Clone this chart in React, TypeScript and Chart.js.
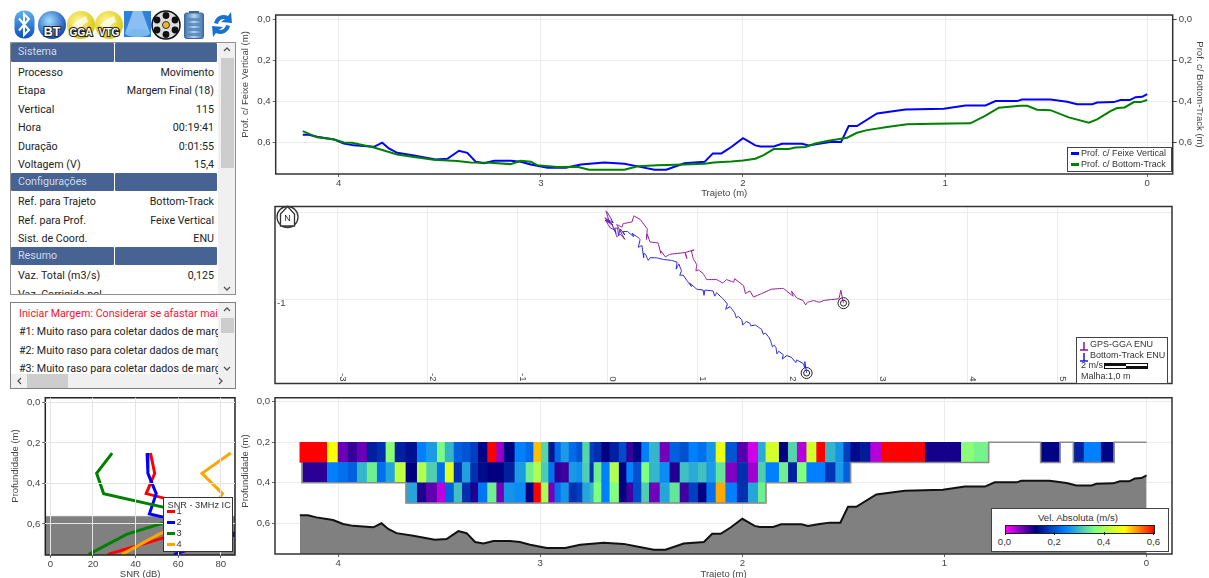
import React, { useEffect, useRef } from "react";
import { Chart, registerables } from "chart.js";

Chart.register(...registerables);

const FONT = '"Liberation Sans", Arial, sans-serif';
const UI_FONT = 'Roboto, "Noto Sans", sans-serif';
const TXT = "#444";
const GRID = "#ececec";

// ---------- left panel ----------
const propertyRows: [string, string, boolean][] = [
  ["Sistema", "", true],
  ["Processo", "Movimento", false],
  ["Etapa", "Margem Final (18)", false],
  ["Vertical", "115", false],
  ["Hora", "00:19:41", false],
  ["Duração", "0:01:55", false],
  ["Voltagem (V)", "15,4", false],
  ["Configurações", "", true],
  ["Ref. para Trajeto", "Bottom-Track", false],
  ["Ref. para Prof.", "Feixe Vertical", false],
  ["Sist. de Coord.", "ENU", false],
  ["Resumo", "", true],
  ["Vaz. Total (m3/s)", "0,125", false],
  ["Vaz. Corrigida pol", "", false],
];
const messages = [
  "Iniciar Margem: Considerar se afastar mais da margem",
  "#1: Muito raso para coletar dados de margem",
  "#2: Muito raso para coletar dados de margem",
  "#3: Muito raso para coletar dados de margem",
];

// ---------- depth profile (x = trajeto in m, y = depth in m) ----------
const beamX = [4.178,4.149,4.107,4.025,3.975,3.926,3.826,3.785,3.752,3.711,3.628,3.521,3.463,3.405,3.364,3.322,3.281,3.231,3.149,3.1,3.05,2.967,2.876,2.802,2.686,2.587,2.521,2.438,2.38,2.29,2.19,2.149,2.107,2.058,2.0,1.939,1.914,1.848,1.807,1.708,1.675,1.617,1.568,1.515,1.477,1.436,1.337,1.196,1.007,0.899,0.8,0.751,0.644,0.619,0.479,0.396,0.347,0.272,0.248,0.165,0.132,0.086,0.058,0.025,0];
const beamDepth = [0.561,0.561,0.571,0.584,0.604,0.613,0.62,0.6,0.628,0.649,0.662,0.681,0.678,0.639,0.649,0.693,0.7,0.688,0.688,0.693,0.706,0.722,0.722,0.706,0.696,0.702,0.715,0.731,0.731,0.7,0.693,0.652,0.652,0.621,0.578,0.613,0.618,0.618,0.605,0.605,0.613,0.604,0.597,0.597,0.519,0.519,0.458,0.439,0.435,0.419,0.419,0.398,0.398,0.39,0.39,0.401,0.413,0.413,0.405,0.403,0.393,0.393,0.379,0.377,0.364];
const bottomX = [4.178,4.107,4.025,3.975,3.934,3.826,3.711,3.628,3.53,3.414,3.348,3.249,3.15,3.1,3.05,3.018,2.919,2.82,2.762,2.587,2.521,2.424,2.29,2.19,2.144,2.058,2,1.939,1.898,1.848,1.774,1.741,1.691,1.642,1.584,1.485,1.436,1.386,1.287,1.188,1.056,0.875,0.8,0.734,0.627,0.594,0.545,0.479,0.388,0.289,0.248,0.182,0.149,0.112,0.066,0.033,0];
const bottomDepth = [0.544,0.574,0.583,0.599,0.6,0.623,0.657,0.67,0.683,0.689,0.696,0.697,0.704,0.688,0.693,0.709,0.718,0.717,0.731,0.731,0.714,0.709,0.706,0.702,0.696,0.691,0.686,0.678,0.66,0.631,0.631,0.623,0.621,0.604,0.592,0.576,0.552,0.539,0.524,0.511,0.508,0.506,0.469,0.43,0.421,0.421,0.44,0.442,0.477,0.503,0.487,0.447,0.432,0.429,0.403,0.403,0.393];

const depthTicks = [0, 0.2, 0.4, 0.6];
const trajetoTicks = [4, 3, 2, 1, 0];

// ---------- track plot (east, north in m) ----------
const btEast = [2.21,2.19,2.19,2.17,2.1,2.09,2.04,1.99,1.94,1.95,1.9,1.88,1.87,1.85,1.83,1.81,1.79,1.75,1.73,1.71,1.64,1.59,1.58,1.54,1.5,1.49,1.45,1.43,1.41,1.36,1.31,1.33,1.29,1.21,1.19,1.17,1.08,1.07,1.06,0.99,0.91,0.93,0.88,0.84,0.8,0.82,0.79,0.76,0.77,0.71,0.62,0.54,0.47,0.45,0.42,0.4,0.4,0.38,0.34,0.36,0.34,0.27,0.29,0.22,0.17,0.19,0.14,0.12,0.11,0.08,0.09,0.04,-0.03,0,0.06,0.03,-0.01];
const btNorth = [-1.84,-1.71,-1.78,-1.73,-1.69,-1.72,-1.66,-1.64,-1.68,-1.63,-1.59,-1.62,-1.55,-1.52,-1.54,-1.47,-1.43,-1.38,-1.4,-1.34,-1.29,-1.3,-1.27,-1.25,-1.29,-1.23,-1.19,-1.21,-1.15,-1.08,-1.11,-1.05,-1,-0.92,-0.96,-0.9,-0.89,-0.95,-0.89,-0.88,-0.81,-0.85,-0.78,-0.72,-0.72,-0.67,-0.59,-0.65,-0.57,-0.55,-0.54,-0.52,-0.52,-0.55,-0.48,-0.47,-0.52,-0.38,-0.4,-0.31,-0.29,-0.24,-0.28,-0.22,-0.22,-0.26,-0.19,-0.27,-0.18,-0.18,-0.24,-0.12,-0.09,-0.08,-0.12,-0.06,0.01];
const ggaEast = [2.62,2.59,2.57,2.47,2.4,2.35,2.29,2.22,2.2,2.17,2.1,2.04,2.06,1.95,1.82,1.71,1.62,1.58,1.53,1.51,1.41,1.4,1.32,1.28,1.21,1.1,1.06,1.01,0.98,0.99,0.95,0.93,0.96,0.86,0.88,0.86,0.69,0.64,0.59,0.59,0.56,0.47,0.44,0.43,0.44,0.36,0.29,0.27,0.17,0.16,0.1,0.19,0.14,0.1,0.08,0.03,-0.02,0.06,-0.03,0.02,-0.02];
const ggaNorth = [-1.04,-0.89,-0.99,-1,-1.01,-1.03,-1.01,-1.03,-1.06,-1.01,-0.98,-0.9,-0.96,-0.87,-0.88,-0.93,-0.97,-0.9,-0.93,-0.84,-0.76,-0.8,-0.77,-0.81,-0.77,-0.77,-0.7,-0.66,-0.67,-0.6,-0.53,-0.44,-0.43,-0.46,-0.53,-0.46,-0.48,-0.51,-0.44,-0.47,-0.35,-0.34,-0.25,-0.31,-0.19,-0.08,-0.04,-0.11,-0.13,-0.17,-0.14,-0.31,-0.25,-0.28,-0.2,-0.18,-0.1,-0.15,-0.06,-0.12,0.02];
const trackEastTicks = [-3, -2, -1, 0, 1, 2, 3, 4, 5];
const trackNorthTicks = [0, -1];

// ---------- SNR profile ----------
const snrDepth = [0.25, 0.35, 0.45, 0.55, 0.65, 0.75];
const snrBeam1 = [47, 49, 45, 82, 59, 27];
const snrBeam2 = [45.4, 45.8, 49.7, 46.5, 88, 58];
const snrBeam3 = [29, 21.7, 25, 67, 36, 18];
const snrBeam4 = [84.7, 71.2, 80.8, 75, 51, 33.6];
const snrTicks = [0, 20, 40, 60, 80];
const snrBottomDepth = 0.5625;

// ---------- velocity cells ----------
const cellEdges = [4.189,4.178,4.053,4.0,3.95,3.905,3.856,3.806,3.763,3.718,3.664,3.608,3.562,3.509,3.47,3.426,3.385,3.344,3.306,3.26,3.215,3.178,3.125,3.07,3.032,2.995,2.958,2.927,2.897,2.857,2.819,2.79,2.754,2.734,2.696,2.655,2.609,2.572,2.539,2.498,2.46,2.407,2.358,2.308,2.264,2.218,2.176,2.13,2.082,2.025,1.97,1.921,1.883,1.817,1.772,1.728,1.681,1.632,1.589,1.538,1.498,1.464,1.415,1.365,1.312,1.095,0.916,0.854,0.781,0.524,0.428,0.362,0.309,0.224,0.161];
const cellDepths = [0.25, 0.35, 0.45];
const velRow1: (number | null)[] = [0.6,0.6,0.48,0.07,0.095,0.07,0.15,0.165,0.37,0.15,0.135,0.24,0.265,0.355,0.29,0.21,0.2,0.18,0.125,0.6,0.05,0.12,0.24,0.22,0.51,0.32,0.14,0.22,0.265,0.22,0.2,0.32,0.18,0.165,0.12,0.15,0.19,0.095,0.125,0.24,0.29,0.065,0.21,0.195,0.24,0.225,0.26,0.46,0.2,0.08,0.022,0.28,0.44,0.12,0.32,0.035,0.44,0.6,0.29,0.26,0.18,0.13,0.145,0.035,0.6,0.11,0.37,0.35,null,0.125,null,0.15,0.24,0.125];
const velRow2: (number | null)[] = [null,0.1,0.24,0.225,0.21,0.29,0.345,0.225,0.275,0.42,0.12,0.405,0.315,0.225,0.45,0.165,0.27,0.165,0.13,0.12,0.12,0.15,0.265,0.345,0.405,0.31,0.225,0.097,0.09,0.264,0.255,0.315,0.165,0.345,0.24,0.405,0.12,0.24,0.195,0.36,0.29,0.25,0.105,0.3,0.28,0.3,0.265,0.335,0.06,0.165,0.045,0.315,0.24,0.345,0.15,0.36,0.24,0.24,0.17,0.265,0.21];
const velRow3: (number | null)[] = [null,null,null,null,null,null,null,null,null,null,0.275,0.105,0.075,0.03,0.21,0.3,0.165,0.105,0.23,0.345,0.067,0.26,0.25,0.12,0.6,0.405,0.065,0.225,0.26,0.165,0.18,0.275,0.29,0.36,0.24,0.36,0.12,0.09,0.19,0.315,0.067,0.275,0.335,0.09,0.18,0.12,0.225,0.52,0.24,0.165,0.275,0.345];
const meshOutlineX = [4.178,4.178,3.664,3.664,1.883,1.883,1.464,1.464,0.781,0.781,0.524,0.524,0.428,0.428,0.362,0.362,0.161,0.161,0];
const meshOutlineDepth = [0.3,0.4,0.4,0.5,0.5,0.4,0.4,0.3,0.3,0.2,0.2,0.3,0.3,0.2,0.2,0.3,0.3,0.2,0.2];

const colorStops: [number, [number, number, number]][] = [
  [0, [255, 0, 255]],
  [0.12, [0, 0, 128]],
  [0.24, [0, 128, 255]],
  [0.36, [128, 255, 128]],
  [0.48, [255, 255, 0]],
  [0.6, [255, 0, 0]],
];
const colorbarLabels = ["0,0", "0,2", "0,4", "0,6"];

function velColor(v: number) {
  for (let i = 1; i < colorStops.length; i++) {
    const [v0, c0] = colorStops[i - 1];
    const [v1, c1] = colorStops[i];
    if (v <= v1) {
      const t = (v - v0) / (v1 - v0);
      return `rgb(${c0.map((c, k) => Math.round(c + (c1[k] - c) * t)).join(",")})`;
    }
  }
  return "rgb(255,0,0)";
}

const zip = (xs: number[], ys: number[]) => xs.map((x, i) => ({ x, y: ys[i] }));
const comma = (v: number) => v.toFixed(1).replace(".", ",");

const framePlugin = (color = "#333", lw = 1.5) => ({
  id: "frame",
  afterDatasetsDraw(c: any) {
    const { left, top, width, height } = c.chartArea;
    c.ctx.save();
    c.ctx.strokeStyle = color;
    c.ctx.lineWidth = lw;
    c.ctx.strokeRect(left, top, width, height);
    c.ctx.restore();
  },
});

// Left-hand axis title, centred a little above the plot centre as in the picture.
const leftTitlePlugin = (text: string, x: number, y: number) => ({
  id: "leftTitle",
  afterDraw(c: any) {
    const ctx = c.ctx;
    ctx.save();
    ctx.translate(x, y);
    ctx.rotate(-Math.PI / 2);
    ctx.fillStyle = TXT;
    ctx.font = `9.5px ${FONT}`;
    ctx.textAlign = "center";
    ctx.textBaseline = "middle";
    ctx.fillText(text, 0, 0);
    ctx.restore();
  },
});

const tickFont = { family: FONT, size: 9.6 };
const titleFont = { family: FONT, size: 9.5 };
// A tiny tension keeps Chart.js from merging back-and-forth paths on its straight-line fast path.
const PATH_TENSION = 0.001;

const fixedTicks = (list: number[]) => (s: any) => {
  s.ticks = list.map((value) => ({ value }));
};

function depthAxis(extra: any = {}) {
  return {
    type: "linear",
    reverse: true,
    offset: false,
    min: -0.02,
    max: 0.752,
    afterBuildTicks: fixedTicks(depthTicks),
    ticks: { color: TXT, font: tickFont, padding: 2, callback: (v: number) => comma(v), autoSkip: false },
    grid: { color: GRID, tickLength: 3, tickColor: "#666", offset: false },
    border: { display: false },
    ...extra,
  };
}
function trajetoAxis(height: number, bottomPad: number, extra: any = {}) {
  return {
    type: "linear",
    reverse: true,
    min: -0.126,
    max: 4.312,
    afterBuildTicks: fixedTicks(trajetoTicks),
    afterFit: (s: any) => { s.height = height; },
    ticks: { color: TXT, font: tickFont, padding: 1, maxRotation: 0, autoSkip: false, callback: (v: number) => String(v) },
    grid: { color: GRID, tickLength: 3, tickColor: "#666" },
    border: { display: false },
    title: { display: true, text: "Trajeto (m)", color: TXT, font: titleFont, padding: { top: 0, bottom: bottomPad } },
    ...extra,
  };
}
const baseOptions = {
  responsive: false,
  animation: false,
  devicePixelRatio: 1,
  plugins: { legend: { display: false }, tooltip: { enabled: false }, title: { display: false } },
  elements: { point: { radius: 0 }, line: { tension: 0 } },
};

function useChart(make: (canvas: HTMLCanvasElement) => Chart) {
  const ref = useRef<HTMLCanvasElement>(null);
  useEffect(() => {
    const chart = make(ref.current!);
    return () => chart.destroy();
  }, []);
  return ref;
}

function makeDepthChart(canvas: HTMLCanvasElement) {
  return new Chart(canvas, {
    type: "line",
    data: {
      datasets: [
        { label: "Prof. c/ Bottom-Track", data: zip(bottomX, bottomDepth), borderColor: "#008000", borderWidth: 2, yAxisID: "y2" },
        { label: "Prof. c/ Feixe Vertical", data: zip(beamX, beamDepth), borderColor: "#0000ff", borderWidth: 2, yAxisID: "y" },
      ],
    },
    options: {
      ...baseOptions,
      layout: { padding: { top: 10, left: 0, right: 0, bottom: 0 } },
      scales: {
        x: trajetoAxis(28, 2.6),
        y: depthAxis({ afterFit: (s: any) => { s.width = 35.7; } }),
        y2: depthAxis({
          position: "right",
          afterFit: (s: any) => { s.width = 36.3; },
          grid: { drawOnChartArea: false, tickLength: 4, tickColor: "#444" },
          title: { display: true, text: "Prof. c/ Bottom-Track (m)", color: TXT, font: titleFont, padding: { top: 3.6, bottom: 0 } },
        }),
      },
    } as any,
    plugins: [framePlugin("#333", 1.5), leftTitlePlugin("Prof. c/ Feixe Vertical (m)", 5.5, 79.5)],
  } as any);
}

const eastLabelPlugin = {
  id: "eastLabels",
  afterDatasetsDraw(c: any) {
    const { ctx, chartArea, scales } = c;
    ctx.save();
    ctx.fillStyle = TXT;
    ctx.font = `9.6px ${FONT}`;
    ctx.textBaseline = "middle";
    ctx.textAlign = "right";
    for (const v of trackEastTicks) {
      ctx.save();
      ctx.translate(scales.x.getPixelForValue(v) + 5, chartArea.bottom - 2);
      ctx.rotate(Math.PI / 2);
      ctx.fillText(String(v), 0, 0);
      ctx.restore();
    }
    ctx.textAlign = "left";
    ctx.fillText(String(trackNorthTicks[1]), chartArea.left + 2, scales.y.getPixelForValue(trackNorthTicks[1]) + 4);
    ctx.restore();
  },
};

function makeTrackChart(canvas: HTMLCanvasElement) {
  return new Chart(canvas, {
    type: "scatter",
    data: {
      datasets: [
        { label: "GPS-GGA ENU", type: "line", data: zip(ggaEast, ggaNorth), borderColor: "#90109a", borderWidth: 1, tension: PATH_TENSION },
        { label: "Bottom-Track ENU", type: "line", data: zip(btEast, btNorth), borderColor: "#1818e8", borderWidth: 1, tension: PATH_TENSION },
        { label: "Fim externo", data: [{ x: ggaEast[0], y: ggaNorth[0] }, { x: btEast[0], y: btNorth[0] }], pointRadius: 5.5, pointBorderColor: "#222", pointBackgroundColor: "transparent", pointBorderWidth: 1 },
        { label: "Fim interno", data: [{ x: ggaEast[0], y: ggaNorth[0] }, { x: btEast[0], y: btNorth[0] }], pointRadius: 3, pointBorderColor: "#222", pointBackgroundColor: "transparent", pointBorderWidth: 1 },
      ],
    },
    options: {
      ...baseOptions,
      layout: { padding: { top: 5, right: 37, left: 0, bottom: 0 } },
      scales: {
        x: {
          type: "linear", min: -3.697, max: 6.27,
          afterBuildTicks: fixedTicks(trackEastTicks),
          afterFit: (s: any) => { s.height = 4; },
          ticks: { display: false },
          grid: { color: GRID, drawTicks: false },
          border: { display: false },
        },
        y: {
          type: "linear", min: -1.96, max: 0.067,
          afterBuildTicks: fixedTicks(trackNorthTicks),
          afterFit: (s: any) => { s.width = 35; },
          ticks: { display: false },
          grid: { color: GRID, drawTicks: false },
          border: { display: false },
        },
      },
    } as any,
    plugins: [eastLabelPlugin, framePlugin("#333", 1.5)],
  } as any);
}

function makeVelocityChart(canvas: HTMLCanvasElement) {
  const rows = [velRow1, velRow2, velRow3];
  const cells: { x: [number, number]; y: number }[] = [];
  const colors: string[] = [];
  rows.forEach((row, r) =>
    row.forEach((v, i) => {
      if (v == null) return;
      cells.push({ x: [cellEdges[i], cellEdges[i + 1]], y: cellDepths[r] });
      colors.push(velColor(v));
    })
  );
  return new Chart(canvas, {
    type: "bar",
    data: {
      datasets: [
        { type: "line", label: "Malha", data: zip(meshOutlineX, meshOutlineDepth), borderColor: "#8c8c8c", borderWidth: 1.6, tension: PATH_TENSION, order: 0 },
        { type: "bar", label: "Vel. Absoluta (m/s)", data: cells, backgroundColor: colors, borderWidth: 0, barPercentage: 1, categoryPercentage: 1, order: 1 },
        { type: "line", label: "Fundo", data: [{ x: 4.189, y: 0.561 }, ...zip(beamX, beamDepth)], borderColor: "#111", borderWidth: 2, backgroundColor: "#808080", fill: "start", order: 3 },
      ],
    },
    options: {
      ...baseOptions,
      indexAxis: "y",
      datasets: { line: { indexAxis: "x" } },
      layout: { padding: { top: 5, right: 37, left: 0, bottom: 0 } },
      scales: {
        x: trajetoAxis(26, 0),
        y: depthAxis({ afterFit: (s: any) => { s.width = 35; } }),
      },
    } as any,
    plugins: [framePlugin("#333", 1.5), leftTitlePlugin("Profundidade (m)", 5.5, 81)],
  } as any);
}

function makeSnrChart(canvas: HTMLCanvasElement) {
  const beams: [string, number[], string][] = [
    ["1", snrBeam1, "#ff0000"],
    ["2", snrBeam2, "#0000ff"],
    ["3", snrBeam3, "#008000"],
    ["4", snrBeam4, "#ffa500"],
  ];
  return new Chart(canvas, {
    type: "line",
    data: {
      datasets: [
        ...beams.reverse().map(([label, vals, color]) => ({
          label, data: zip(vals, snrDepth), borderColor: color, borderWidth: 3, order: 1,
        })),
        { label: "Fundo", data: [{ x: -2.4, y: snrBottomDepth }, { x: 86.7, y: snrBottomDepth }], borderColor: "#9a9a9a", borderWidth: 1, backgroundColor: "#808080", fill: "start", order: 2 },
      ],
    },
    options: {
      ...baseOptions,
      layout: { padding: { top: 6, right: 5, left: 0, bottom: 0 } },
      scales: {
        x: {
          type: "linear", min: -2.4, max: 86.7,
          afterBuildTicks: fixedTicks(snrTicks),
          afterFit: (s: any) => { s.height = 25; },
          ticks: { color: TXT, font: tickFont, padding: 1, maxRotation: 0, callback: (v: number) => String(v) },
          grid: { color: "#e4e4e4", tickLength: 3, tickColor: "#666", z: 1 },
          border: { display: false },
          title: { display: true, text: "SNR (dB)", color: TXT, font: titleFont, padding: { top: 0, bottom: 0 } },
        },
        y: depthAxis({
          min: -0.023,
          max: 0.753,
          afterFit: (s: any) => { s.width = 45.3; },
          grid: { color: "#e4e4e4", tickLength: 3, tickColor: "#666", z: 1 },
        }),
      },
    } as any,
    plugins: [framePlugin("#222", 1.5), leftTitlePlugin("Profundidade (m)", 15, 76)],
  } as any);
}

const abs = (left: number, top: number, width: number, height: number): React.CSSProperties => ({
  position: "absolute", left, top, width, height,
});

function Icons() {
  const label = (x: number, text: string, size = 10.5) => (
    <text x={x} y={35.5} textAnchor="middle" fontFamily={FONT} fontWeight="700" fontSize={size} fill="#fff" stroke="#222" strokeWidth={2.2} paintOrder="stroke">{text}</text>
  );
  return (
    <svg style={abs(0, 0, 240, 42)} viewBox="0 0 240 42">
      <defs>
        <linearGradient id="gb" x1="0" y1="0" x2="0" y2="1"><stop offset="0" stopColor="#5fb0f0" /><stop offset="1" stopColor="#0a50c0" /></linearGradient>
        <radialGradient id="gg" cx="0.4" cy="0.35" r="0.7"><stop offset="0" stopColor="#9fe0ff" /><stop offset="1" stopColor="#0a3fb0" /></radialGradient>
        <radialGradient id="gy" cx="0.4" cy="0.35" r="0.7"><stop offset="0" stopColor="#fff59a" /><stop offset="1" stopColor="#d8c400" /></radialGradient>
        <linearGradient id="gbat" x1="0" y1="0" x2="1" y2="0"><stop offset="0" stopColor="#3d6ea8" /><stop offset="0.5" stopColor="#bcd4ea" /><stop offset="1" stopColor="#3d6ea8" /></linearGradient>
      </defs>
      <rect x={14.5} y={10.5} width={20} height={28} rx={9} fill="url(#gb)" />
      <path d="M19 18.5 L29 30 L24 35 L24 14 L29 19 L19 30.5" fill="none" stroke="#fff" strokeWidth={2} />
      <circle cx={52} cy={25} r={14} fill="url(#gg)" />
      {label(52, "BT", 12.5)}
      <circle cx={81} cy={25} r={14} fill="url(#gy)" />
      <path d="M72 25 Q80 18 86 16 L88 22 Q82 24 80 30 Z" fill="#fff" opacity={0.75} />
      {label(81, "GGA", 10)}
      <circle cx={109} cy={25} r={14} fill="url(#gy)" />
      <path d="M100 25 Q108 18 114 16 L116 22 Q110 24 108 30 Z" fill="#fff" opacity={0.75} />
      {label(109, "VTG", 10)}
      <rect x={124} y={11} width={27} height={26} fill="#2f7fdc" />
      <path d="M133 11 H142 L150 33 H125 Z" fill="#a8d4fa" opacity={0.75} />
      <ellipse cx={137.5} cy={33} rx={12.5} ry={4} fill="#7ab8ee" />
      <circle cx={166} cy={25} r={14} fill="#ddd" stroke="#111" strokeWidth={1.5} />
      {[[166, 15.5], [166, 34.5], [157, 20], [175, 20], [157, 30], [175, 30]].map(([cx, cy], i) => (
        <circle key={i} cx={cx} cy={cy} r={3.4} fill="#111" />
      ))}
      <circle cx={166} cy={25} r={3.5} fill="#f0b820" stroke="#333" />
      <rect x={184.5} y={13} width={19} height={25.5} rx={2} fill="url(#gbat)" stroke="#3a6a9a" />
      <rect x={189} y={11} width={10} height={2} fill="#3a6a9a" />
      {[18, 23, 28, 33].map((y) => (<rect key={y} x={188} y={y} width={12} height={3} fill="#4f86c0" opacity={0.8} />))}
      <path d="M214 23 A10 10 0 0 1 228 16 L231 12 L232 23 L221 22 L225 19 A6 6 0 0 0 218 24 Z" fill="#1a72d0" />
      <path d="M230 26 A10 10 0 0 1 216 33 L213 37 L212 26 L223 27 L219 30 A6 6 0 0 0 226 25 Z" fill="#1a72d0" />
    </svg>
  );
}

const Chevron = ({ left, top, d }: any) => (
  <svg style={abs(left, top, 10, 10)} viewBox="0 0 10 10"><path d={d} fill="none" stroke="#555" strokeWidth={1.3} /></svg>
);
const VBar = ({ left, top, height, thumbTop, thumbH }: any) => (
  <div style={{ ...abs(left, top, 17, height), background: "#f0f0f0" }}>
    <div style={{ ...abs(3, thumbTop, 13, thumbH), background: "#cdcdcd" }} />
    <Chevron left={4} top={2} d="M2 6 L5 3 L8 6" />
    <Chevron left={4} top={height - 11} d="M2 4 L5 7 L8 4" />
  </div>
);

function LeftPanel() {
  const rowH = 18.5;
  const font = `10.7px/21px ${UI_FONT}`;
  return (
    <>
      <Icons />
      <div style={{ ...abs(10, 42, 226, 253), border: "1px solid #909090", boxSizing: "border-box", overflow: "hidden", background: "#fff" }}>
        {propertyRows.map(([name, value, header], i) => {
          const top = i * rowH;
          if (header)
            return (
              <React.Fragment key={name}>
                <div style={{ ...abs(0, top, 103, 18.6), background: "#466394", borderRadius: 1, color: "#cfd8e8", font: `10.7px/18.6px ${UI_FONT}`, paddingLeft: 7, boxSizing: "border-box" }}>{name}</div>
                <div style={{ ...abs(104, top, 102, 18.6), background: "#466394", borderRadius: 1 }} />
              </React.Fragment>
            );
          return (
            <React.Fragment key={name}>
              <div style={{ ...abs(7, top, 110, 21), color: "#222", font, whiteSpace: "nowrap" }}>{name}</div>
              <div style={{ ...abs(90, top, 113, 21), color: "#222", font, textAlign: "right", whiteSpace: "nowrap" }}>{value}</div>
            </React.Fragment>
          );
        })}
        <VBar left={207} top={0} height={251} thumbTop={15} thumbH={110} />
      </div>
      <div style={{ ...abs(10, 302, 226, 87), border: "1.5px solid #808080", boxSizing: "border-box", overflow: "hidden", background: "#fff" }}>
        {messages.map((m, i) => (
          <div key={i} style={{ ...abs(8, 0 + i * 18.4, 202, 21), overflow: "hidden", whiteSpace: "nowrap", color: i === 0 ? "#ff1030" : "#222", font }}>{m}</div>
        ))}
        <VBar left={207} top={0} height={71} thumbTop={15} thumbH={15} />
        <div style={{ ...abs(0, 71, 224, 14), background: "#f0f0f0" }}>
          <div style={{ ...abs(16, 0, 41, 14), background: "#cdcdcd" }} />
          <Chevron left={4} top={2} d="M6 2 L3 5 L6 8" />
          <Chevron left={204} top={2} d="M4 2 L7 5 L4 8" />
        </div>
      </div>
    </>
  );
}

function Overlays() {
  const small = `9px/11px ${FONT}`;
  return (
    <>
      {/* depth legend */}
      <div style={{ ...abs(1066.5, 146.5, 105.5, 25), border: "1.5px solid #444", boxSizing: "border-box", background: "#fff", font: small, color: "#333" }}>
        <div style={{ ...abs(3.5, 4.5, 8, 3), background: "#0000ff" }} />
        <div style={{ ...abs(13.5, 0.5, 92, 11), whiteSpace: "nowrap" }}>Prof. c/ Feixe Vertical</div>
        <div style={{ ...abs(3.5, 15, 8, 3), background: "#008000" }} />
        <div style={{ ...abs(13.5, 11, 92, 11), whiteSpace: "nowrap" }}>Prof. c/ Bottom-Track</div>
      </div>
      {/* north symbol */}
      <svg style={abs(276, 205, 24, 25)} viewBox="0 0 24 25">
        <circle cx={11.5} cy={12} r={10.5} fill="#fff" stroke="#333" strokeWidth={1.3} />
        <path d="M11.5 1.5 L18.5 9 V21 H4.5 V9 Z" fill="#fff" stroke="#333" strokeWidth={1.3} />
        <text x={11.5} y={16} textAnchor="middle" fontFamily={FONT} fontSize={9} fill="#222">N</text>
      </svg>
      {/* track legend */}
      <div style={{ ...abs(1076, 337, 92, 46.5), border: "1.5px solid #444", boxSizing: "border-box", background: "#fff", font: small, color: "#333" }}>
        <svg style={abs(2, 2, 12, 23)} viewBox="0 0 12 23">
          <path d="M1 10 H9 M5 10 V2" stroke="#90109a" strokeWidth={1.5} fill="none" />
          <path d="M1 21 H9 M5 21 V13" stroke="#1818e8" strokeWidth={1.5} fill="none" />
        </svg>
        <div style={{ ...abs(13, 0.5, 80, 11), whiteSpace: "nowrap" }}>GPS-GGA ENU</div>
        <div style={{ ...abs(13, 11.5, 80, 11), whiteSpace: "nowrap" }}>Bottom-Track ENU</div>
        <div style={{ ...abs(4, 22, 28, 11), whiteSpace: "nowrap" }}>2 m/s</div>
        <div style={{ ...abs(27, 24.5, 44, 6), border: "1px solid #111", boxSizing: "border-box", background: "linear-gradient(#111 50%, #fff 50%) 0 0/50% 100% no-repeat, linear-gradient(#fff 50%, #111 50%) 100% 0/50% 100% no-repeat" }} />
        <div style={{ ...abs(4, 33, 80, 11), whiteSpace: "nowrap" }}>Malha:1,0 m</div>
      </div>
      {/* SNR legend */}
      <div style={{ ...abs(162.5, 497, 70, 55), border: "1.5px solid #333", boxSizing: "border-box", background: "#fff", font: `9.2px/11px ${FONT}`, color: "#333" }}>
        <div style={{ ...abs(4, 1.5, 66, 11), whiteSpace: "nowrap" }}>SNR - 3MHz IC</div>
        {[["1", "#ff0000"], ["2", "#0000ff"], ["3", "#008000"], ["4", "#ffa500"]].map(([name, color], i) => (
          <React.Fragment key={name}>
            <div style={{ ...abs(3, 12 + i * 11, 8.5, 3), background: color }} />
            <div style={{ ...abs(13, 8.3 + i * 11, 10, 11) }}>{name}</div>
          </React.Fragment>
        ))}
      </div>
      {/* colour bar */}
      <div style={{ ...abs(990.5, 507.5, 178, 44), border: "1.5px solid #444", boxSizing: "border-box", background: "#fff", font: `9.6px/12px ${FONT}`, color: "#333" }}>
        <div style={{ ...abs(0, 3, 173, 12), textAlign: "center" }}>Vel. Absoluta (m/s)</div>
        <div style={{ ...abs(13, 16, 150, 9), border: "1px solid #222", boxSizing: "border-box", background: `linear-gradient(90deg, ${colorStops.map(([v]) => `${velColor(v)} ${(v / 0.6) * 100}%`).join(",")})` }} />
        {colorbarLabels.map((t, i) => (
          <React.Fragment key={t}>
            <div style={{ ...abs(13 + i * 49.6, 23.5, 1, 3), background: "#222" }} />
            <div style={{ ...abs(13 + i * 49.6 - 12, 27.5, 24, 12), textAlign: "center" }}>{t}</div>
          </React.Fragment>
        ))}
      </div>
    </>
  );
}

export default function App() {
  const depth = useChart(makeDepthChart);
  const track = useChart(makeTrackChart);
  const vel = useChart(makeVelocityChart);
  const snr = useChart(makeSnrChart);
  return (
    <div style={{ position: "fixed", left: 0, top: 0, width: 1209, height: 578, overflow: "hidden", background: "#fff", filter: "blur(0.35px)" }}>
      <canvas ref={depth} width={969} height={197} style={abs(240, 5, 969, 197)} />
      <canvas ref={track} width={969} height={190} style={abs(240, 200, 969, 190)} />
      <canvas ref={vel} width={969} height={190} style={abs(240, 390, 969, 190)} />
      <canvas ref={snr} width={240} height={190} style={abs(0, 390, 240, 190)} />
      <LeftPanel />
      <Overlays />
    </div>
  );
}
